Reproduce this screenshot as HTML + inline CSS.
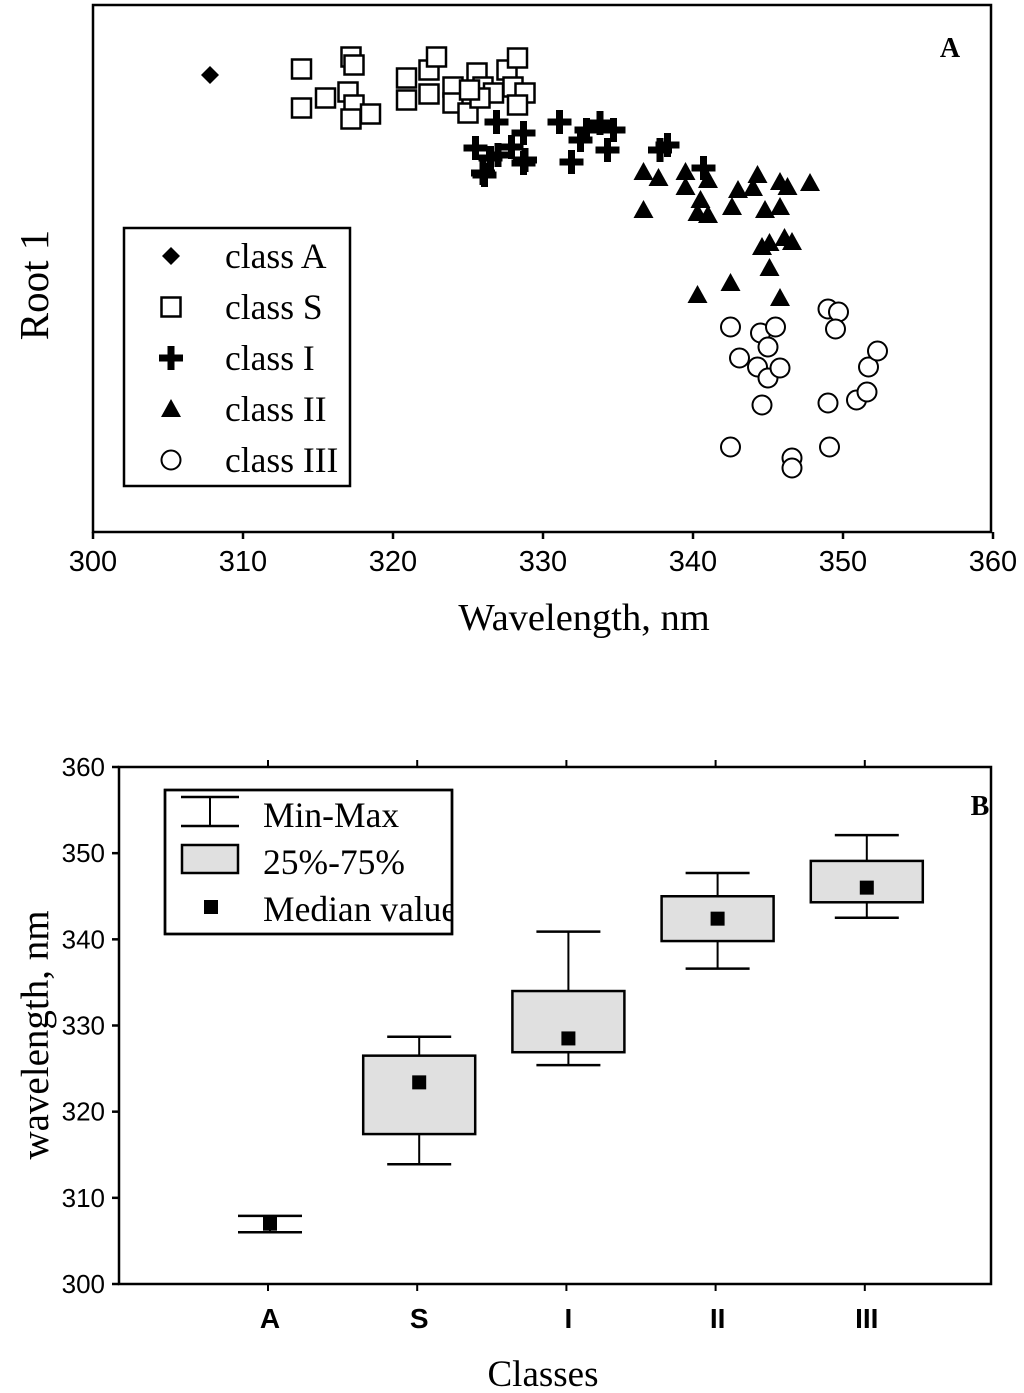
<!DOCTYPE html>
<html><head><meta charset="utf-8"><style>
body{margin:0;background:#fff}
svg{display:block}
.ser{font-family:"Liberation Serif",serif}
.san{font-family:"Liberation Sans",sans-serif}
</style></head><body>
<svg id="s" width="1024" height="1393" viewBox="0 0 1024 1393" xmlns="http://www.w3.org/2000/svg">
<defs><clipPath id="lbclip"><rect x="165" y="790" width="287" height="144"/></clipPath></defs>
<g id="pa"></g>
<g id="pb"></g>
</svg>
<script>
// ---------- Panel A data (wavelength nm, root 1 units) ----------
const xTicksA = [300,310,320,330,340,350,360];
const aX = [307.8];
const aY = [9.1];
const sX = [313.9,313.9,315.5,317.2,317.4,317.0,317.4,317.2,318.5,320.9,320.9,322.4,322.9,322.4,324.0,324.0,325.0,325.6,326.0,326.7,327.6,328.3,328.0,328.8,328.3,325.8,325.1];
const sY = [9.22,8.44,8.64,9.46,9.3,8.76,8.5,8.22,8.32,9.04,8.6,9.2,9.46,8.72,8.86,8.54,8.34,9.14,8.86,8.74,9.2,9.44,8.86,8.74,8.5,8.64,8.8];
const iX = [326.9,325.5,326.0,327.0,328.7,328.7,327.9,331.1,331.9,332.9,333.8,334.7,334.3,332.5,337.8,338.3,340.7,326.5,326.1,328.8];
const iY = [8.16,7.64,7.14,7.5,7.94,7.34,7.66,8.16,7.36,8.0,8.14,8.0,7.6,7.8,7.6,7.7,7.24,7.44,7.1,7.4];
const iiX = [336.7,337.7,336.7,339.5,339.5,340.5,341.0,340.3,341.0,343.0,342.6,344.3,344.0,345.8,346.3,344.8,345.8,347.8,344.6,345.1,346.1,346.6,345.1,342.5,340.3,345.8];
const iiY = [7.16,7.04,6.4,7.16,6.86,6.6,7.0,6.34,6.3,6.8,6.46,7.1,6.84,6.96,6.86,6.4,6.46,6.94,5.66,5.74,5.84,5.76,5.24,4.94,4.7,4.64];
const iiiX = [342.5,343.1,344.5,345.5,345.0,344.3,345.0,345.8,344.6,342.5,346.6,346.6,349.0,349.7,349.5,349.0,349.1,350.9,351.6,351.7,352.3];
const iiiY = [4.06,3.44,3.94,4.06,3.66,3.26,3.04,3.24,2.5,1.66,1.44,1.24,4.42,4.36,4.02,2.54,1.66,2.6,2.76,3.26,3.58];

// ---------- Panel B data ----------
const cats = ["A","S","I","II","III"];
const bMin = [306.0,313.9,325.4,336.6,342.5];
const bMax = [307.9,328.7,340.9,347.7,352.1];
const bQ1 = [307.0,317.4,326.9,339.8,344.3];
const bQ3 = [307.0,326.5,334.0,345.0,349.1];
const bMed = [307.0,323.4,328.5,342.4,346.0];
const yTicksB = [300,310,320,330,340,350,360];

const NS="http://www.w3.org/2000/svg";
function mk(parent,tag,attrs,text){const e=document.createElementNS(NS,tag);for(const k in attrs)e.setAttribute(k,attrs[k]);if(text!==undefined)e.textContent=text;parent.appendChild(e);return e;}

// ---------- Panel A ----------
const pa=document.getElementById('pa');
const xA=v=>93+(v-300)*15;
const yA=v=>530-v*50;
let e=mk(pa,'rect',{x:93,y:5,width:898,height:527,fill:'none',stroke:'#000','stroke-width':2.5});


xTicksA.forEach(t=>{
  let l=mk(pa,'line',{x1:xA(t),x2:xA(t),y1:532,y2:539,stroke:'#000','stroke-width':2.5});
  
  
  let tx=mk(pa,'text',{x:xA(t),y:571,'text-anchor':'middle','font-size':29,class:'san'},String(t));
  
  
});
e=mk(pa,'text',{x:584,y:630,'text-anchor':'middle','font-size':38.5,class:'ser'},'Wavelength, nm');


e=mk(pa,'text',{x:0,y:0,'text-anchor':'middle','font-size':41,class:'ser',transform:'translate(48,285) rotate(-90)'},'Root 1');


e=mk(pa,'text',{x:950,y:57,'text-anchor':'middle','font-size':28,'font-weight':'bold',class:'ser'},'A');



function diamond(g,cx,cy){return mk(g,'path',{d:`M${cx} ${cy-9}L${cx+9} ${cy}L${cx} ${cy+9}L${cx-9} ${cy}Z`,fill:'#000'});}
function square(g,cx,cy){return mk(g,'rect',{x:cx-9.5,y:cy-9.5,width:19,height:19,fill:'#fff',stroke:'#000','stroke-width':2.5});}
function plus(g,cx,cy){return mk(g,'path',{d:`M${cx-12} ${cy}H${cx+12}M${cx} ${cy-12}V${cy+12}`,stroke:'#000','stroke-width':7,fill:'none'});}
function tri(g,cx,cy){return mk(g,'path',{d:`M${cx} ${cy-10}L${cx+10} ${cy+8}L${cx-10} ${cy+8}Z`,fill:'#000'});}
function circ(g,cx,cy){return mk(g,'circle',{cx:cx,cy:cy,r:9.5,fill:'#fff',stroke:'#000','stroke-width':2});}

const series=[[aX,aY,diamond,'class-a-point'],[sX,sY,square,'class-s-point'],[iX,iY,plus,'class-i-point'],[iiX,iiY,tri,'class-ii-point'],[iiiX,iiiY,circ,'class-iii-point']];
series.forEach(([xs,ys,f,name])=>{
  xs.forEach((x,i)=>{
    const m=f(pa,xA(x),yA(ys[i]));
    
    
  });
});
// legend A
const lg=mk(pa,'g',{});


mk(lg,'rect',{x:124,y:228,width:226,height:258,fill:'#fff',stroke:'#000','stroke-width':2.5});
const legNames=['class A','class S','class I','class II','class III'];
const legFns=[diamond,square,plus,tri,circ];
legNames.forEach((n,i)=>{
  const cy=256+i*51;
  const m=legFns[i](lg,171,cy);
  
  
  const t=mk(lg,'text',{x:225,y:cy+12,'font-size':35.5,class:'ser'},n);
  
  
});

// ---------- Panel B ----------
const pb=document.getElementById('pb');
const xB=i=>270+i*149.2;
const yB=v=>1284-(v-300)*(517/60);
e=mk(pb,'rect',{x:119,y:767,width:872,height:517,fill:'none',stroke:'#000','stroke-width':2.5});


yTicksB.forEach(t=>{
  let l=mk(pb,'line',{x1:112,x2:119,y1:yB(t),y2:yB(t),stroke:'#000','stroke-width':2.5});
  
  
  let tx=mk(pb,'text',{x:105,y:yB(t)+9,'text-anchor':'end','font-size':26,class:'san'},String(t));
  
  
});
cats.forEach((c,i)=>{
  let l=mk(pb,'line',{x1:xB(i)-2,x2:xB(i)-2,y1:760,y2:767,stroke:'#000','stroke-width':2});
  
  
  let l2=mk(pb,'line',{x1:xB(i)-2,x2:xB(i)-2,y1:1284,y2:1291,stroke:'#000','stroke-width':2});
  
  
  let tx=mk(pb,'text',{x:xB(i),y:1328,'text-anchor':'middle','font-size':28,'font-weight':'bold',class:'san'},c);
  
  
  const g=mk(pb,'g',{});
  
  
  const cx=xB(i);
  mk(g,'line',{x1:cx,x2:cx,y1:yB(bMax[i]),y2:yB(bMin[i]),stroke:'#000','stroke-width':2});
  mk(g,'line',{x1:cx-32,x2:cx+32,y1:yB(bMax[i]),y2:yB(bMax[i]),stroke:'#000','stroke-width':2.5});
  mk(g,'line',{x1:cx-32,x2:cx+32,y1:yB(bMin[i]),y2:yB(bMin[i]),stroke:'#000','stroke-width':2.5});
  if(bQ3[i]>bQ1[i]) mk(g,'rect',{x:cx-56,y:yB(bQ3[i]),width:112,height:yB(bQ1[i])-yB(bQ3[i]),fill:'#e0e0e0',stroke:'#000','stroke-width':2.5});
  const md=mk(g,'rect',{x:cx-7,y:yB(bMed[i])-7,width:14,height:14,fill:'#000'});
  
  
});
e=mk(pb,'text',{x:543,y:1386,'text-anchor':'middle','font-size':37,class:'ser'},'Classes');


e=mk(pb,'text',{x:0,y:0,'text-anchor':'middle','font-size':39,class:'ser',transform:'translate(48,1035) rotate(-90)'},'wavelength, nm');


e=mk(pb,'text',{x:980,y:815,'text-anchor':'middle','font-size':28,'font-weight':'bold',class:'ser'},'B');


// legend B
const lb=mk(pb,'g',{});


mk(lb,'rect',{x:165,y:790,width:287,height:144,fill:'#fff',stroke:'#000','stroke-width':2.5});
mk(lb,'line',{x1:181,x2:239,y1:797,y2:797,stroke:'#000','stroke-width':2.5});
mk(lb,'line',{x1:181,x2:239,y1:826,y2:826,stroke:'#000','stroke-width':2.5});
mk(lb,'line',{x1:210,x2:210,y1:797,y2:826,stroke:'#000','stroke-width':2});
mk(lb,'rect',{x:182,y:845,width:56,height:28,fill:'#e0e0e0',stroke:'#000','stroke-width':2.5});
mk(lb,'rect',{x:204,y:900,width:14,height:14,fill:'#000'});
const lbt=mk(lb,'g',{'clip-path':'url(#lbclip)'});
[['Min-Max',827],['25%-75%',874],['Median value',921]].forEach(([t,y])=>{
  const tx=mk(lbt,'text',{x:263,y:y,'font-size':35.5,class:'ser'},t);
  
  
});
mk(lb,'rect',{x:165,y:790,width:287,height:144,fill:'none',stroke:'#000','stroke-width':2.5});
</script>
</body></html>
